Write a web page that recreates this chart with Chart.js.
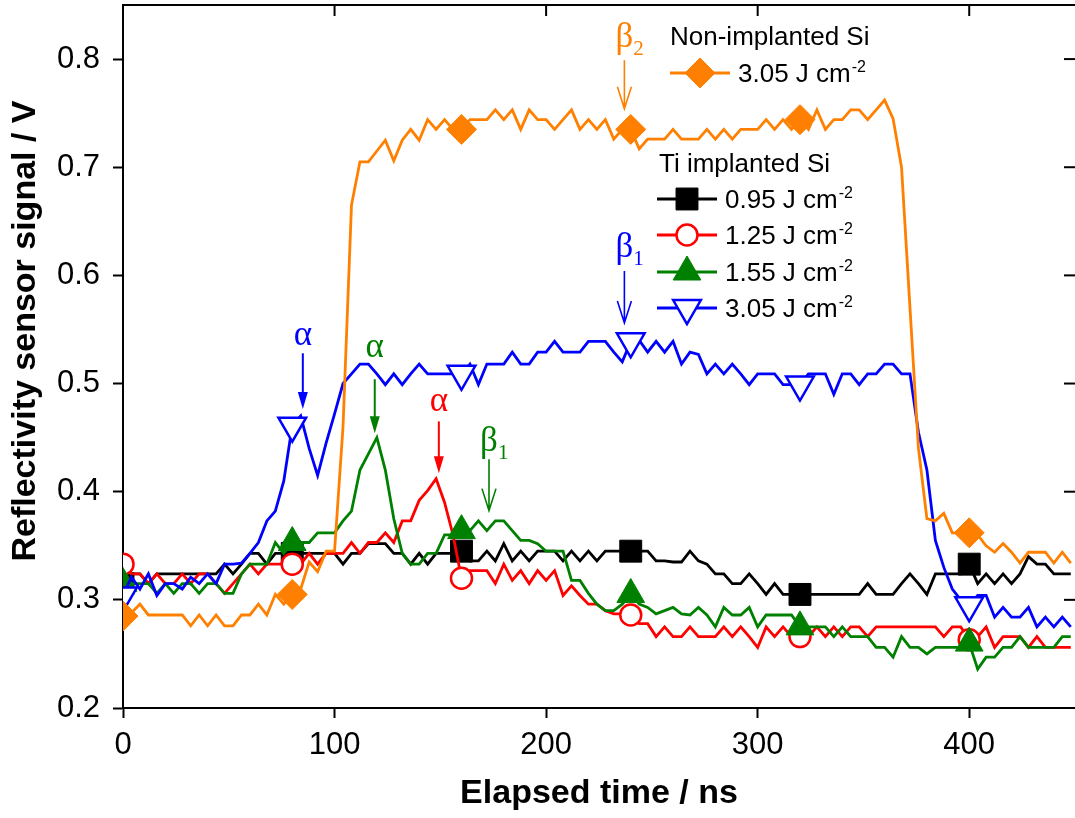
<!DOCTYPE html>
<html>
<head>
<meta charset="utf-8">
<title>Reflectivity sensor signal vs elapsed time</title>
<script src="https://cdn.jsdelivr.net/npm/chart.js@4.4.1/dist/chart.umd.min.js"></script>
<style>
  html, body { margin: 0; padding: 0; background: #fff; }
  #wrap { width: 1075px; height: 818px; position: relative; }
</style>
</head>
<body>
<div id="wrap"><canvas id="chart"></canvas></div>
<script>
// =========================================================
// DATA (4 ns sampling)
// =========================================================
const timesNs = [
  0, 4, 8, 12, 16, 20, 24, 28, 32, 36,
  40, 44, 48, 52, 56, 60, 64, 68, 72, 76,
  80, 84, 88, 92, 96, 100, 104, 108, 112, 116,
  120, 124, 128, 132, 136, 140, 144, 148, 152, 156,
  160, 164, 168, 172, 176, 180, 184, 188, 192, 196,
  200, 204, 208, 212, 216, 220, 224, 228, 232, 236,
  240, 244, 248, 252, 256, 260, 264, 268, 272, 276,
  280, 284, 288, 292, 296, 300, 304, 308, 312, 316,
  320, 324, 328, 332, 336, 340, 344, 348, 352, 356,
  360, 364, 368, 372, 376, 380, 384, 388, 392, 396,
  400, 404, 408, 412, 416, 420, 424, 428, 432, 436,
  440, 444, 448
];

const xTickValues = [0, 100, 200, 300, 400];
const yTickValues = [0.2, 0.3, 0.4, 0.5, 0.6, 0.7, 0.8];

// Non-implanted Si, 3.05 J cm-2
const nonImpl305 = [
  0.285, 0.288, 0.296, 0.286, 0.286, 0.286, 0.286, 0.286, 0.276, 0.286,
  0.276, 0.286, 0.276, 0.276, 0.286, 0.286, 0.296, 0.286, 0.305, 0.296,
  0.305, 0.310, 0.335, 0.326, 0.345, 0.345, 0.460, 0.665, 0.705, 0.705,
  0.715, 0.725, 0.706, 0.725, 0.735, 0.725, 0.744, 0.735, 0.744, 0.735,
  0.735, 0.744, 0.744, 0.744, 0.753, 0.744, 0.753, 0.735, 0.753, 0.744,
  0.744, 0.735, 0.744, 0.753, 0.735, 0.744, 0.735, 0.744, 0.726, 0.735,
  0.735, 0.717, 0.726, 0.726, 0.726, 0.735, 0.726, 0.726, 0.726, 0.735,
  0.726, 0.735, 0.726, 0.735, 0.735, 0.735, 0.744, 0.735, 0.744, 0.735,
  0.744, 0.735, 0.753, 0.735, 0.744, 0.744, 0.753, 0.753, 0.744, 0.753,
  0.762, 0.745, 0.700, 0.570, 0.440, 0.375, 0.373, 0.380, 0.362, 0.362,
  0.362, 0.360, 0.350, 0.344, 0.352, 0.344, 0.334, 0.344, 0.344, 0.344,
  0.334, 0.344, 0.334
];

// Ti implanted Si, 0.95 J cm-2
const ti095 = [
  0.315, 0.324, 0.324, 0.315, 0.324, 0.324, 0.324, 0.324, 0.324, 0.324,
  0.324, 0.324, 0.333, 0.324, 0.333, 0.343, 0.343, 0.333, 0.343, 0.343,
  0.343, 0.343, 0.343, 0.343, 0.343, 0.343, 0.333, 0.343, 0.343, 0.352,
  0.352, 0.352, 0.343, 0.343, 0.333, 0.343, 0.333, 0.343, 0.343, 0.343,
  0.345, 0.336, 0.336, 0.345, 0.336, 0.352, 0.336, 0.345, 0.336, 0.345,
  0.345, 0.345, 0.336, 0.345, 0.336, 0.345, 0.336, 0.345, 0.345, 0.345,
  0.345, 0.345, 0.345, 0.336, 0.336, 0.335, 0.335, 0.345, 0.336, 0.333,
  0.324, 0.324, 0.315, 0.315, 0.324, 0.315, 0.305, 0.315, 0.305, 0.305,
  0.305, 0.305, 0.305, 0.305, 0.305, 0.305, 0.305, 0.305, 0.315, 0.305,
  0.305, 0.305, 0.315, 0.324, 0.315, 0.305, 0.324, 0.324, 0.324, 0.324,
  0.333, 0.315, 0.324, 0.315, 0.324, 0.315, 0.324, 0.340, 0.333, 0.333,
  0.324, 0.324, 0.324
];

// Ti implanted Si, 1.25 J cm-2
const ti125 = [
  0.333, 0.324, 0.324, 0.315, 0.324, 0.315, 0.315, 0.324, 0.315, 0.324,
  0.324, 0.315, 0.306, 0.315, 0.324, 0.333, 0.324, 0.333, 0.333, 0.333,
  0.333, 0.333, 0.343, 0.333, 0.343, 0.343, 0.343, 0.353, 0.343, 0.353,
  0.353, 0.362, 0.353, 0.373, 0.373, 0.392, 0.401, 0.412, 0.390, 0.360,
  0.320, 0.327, 0.327, 0.327, 0.315, 0.333, 0.318, 0.327, 0.315, 0.327,
  0.318, 0.327, 0.304, 0.313, 0.304, 0.296, 0.296, 0.290, 0.287, 0.287,
  0.286, 0.278, 0.278, 0.266, 0.275, 0.266, 0.266, 0.275, 0.266, 0.266,
  0.266, 0.275, 0.266, 0.275, 0.266, 0.256, 0.275, 0.266, 0.275, 0.266,
  0.266, 0.266, 0.275, 0.266, 0.275, 0.266, 0.275, 0.275, 0.266, 0.275,
  0.275, 0.275, 0.275, 0.275, 0.275, 0.275, 0.275, 0.266, 0.275, 0.275,
  0.263, 0.266, 0.275, 0.256, 0.266, 0.266, 0.266, 0.256, 0.266, 0.256,
  0.256, 0.256, 0.256
];

// Ti implanted Si, 1.55 J cm-2
const ti155 = [
  0.315, 0.315, 0.315, 0.315, 0.306, 0.315, 0.306, 0.315, 0.315, 0.306,
  0.315, 0.315, 0.306, 0.306, 0.324, 0.333, 0.333, 0.333, 0.353, 0.343,
  0.353, 0.353, 0.353, 0.362, 0.362, 0.362, 0.373, 0.382, 0.420, 0.435,
  0.450, 0.420, 0.375, 0.343, 0.333, 0.333, 0.343, 0.343, 0.360, 0.360,
  0.364, 0.364, 0.373, 0.364, 0.373, 0.373, 0.364, 0.355, 0.355, 0.352,
  0.345, 0.345, 0.345, 0.318, 0.318, 0.306, 0.296, 0.290, 0.290, 0.296,
  0.305, 0.296, 0.293, 0.287, 0.290, 0.293, 0.287, 0.286, 0.293, 0.286,
  0.275, 0.293, 0.286, 0.286, 0.293, 0.275, 0.286, 0.286, 0.286, 0.286,
  0.275, 0.275, 0.275, 0.275, 0.266, 0.275, 0.266, 0.266, 0.266, 0.256,
  0.256, 0.247, 0.266, 0.256, 0.256, 0.250, 0.256, 0.256, 0.256, 0.256,
  0.260, 0.236, 0.247, 0.247, 0.256, 0.256, 0.266, 0.256, 0.256, 0.256,
  0.256, 0.266, 0.266
];

// Ti implanted Si, 3.05 J cm-2
const ti305 = [
  0.304, 0.321, 0.310, 0.324, 0.304, 0.315, 0.315, 0.310, 0.321, 0.315,
  0.324, 0.315, 0.333, 0.333, 0.334, 0.343, 0.353, 0.373, 0.382, 0.410,
  0.461, 0.470, 0.440, 0.415, 0.445, 0.472, 0.500, 0.509, 0.518, 0.518,
  0.509, 0.499, 0.509, 0.499, 0.509, 0.518, 0.509, 0.509, 0.509, 0.509,
  0.509, 0.518, 0.499, 0.518, 0.518, 0.518, 0.529, 0.518, 0.518, 0.529,
  0.529, 0.539, 0.529, 0.529, 0.529, 0.539, 0.539, 0.539, 0.529, 0.520,
  0.539, 0.540, 0.529, 0.539, 0.529, 0.539, 0.518, 0.529, 0.527, 0.509,
  0.518, 0.509, 0.518, 0.509, 0.499, 0.509, 0.509, 0.509, 0.499, 0.499,
  0.499, 0.509, 0.509, 0.509, 0.490, 0.509, 0.509, 0.499, 0.509, 0.509,
  0.518, 0.518, 0.509, 0.509, 0.455, 0.420, 0.355, 0.330, 0.310, 0.300,
  0.295, 0.304, 0.304, 0.284, 0.293, 0.284, 0.284, 0.293, 0.275, 0.284,
  0.275, 0.284, 0.275
];

const legendLabel = "3.05 J cm";

// =========================================================
// STYLE
// =========================================================
const FONT_SANS = "'Liberation Sans', Arial, sans-serif";
const FONT_SERIF = "'Liberation Serif', 'Times New Roman', serif";
const MARKER_EVERY_NS = 80;
const LINE_W = 2.8;

const ORANGE = "#ff8000";
const BLACK = "#000000";
const RED = "#ff0000";
const GREEN = "#008000";
const BLUE = "#0000ff";

const styles = {
  orange: { color: ORANGE, marker: "rectRot", radius: 15 },
  black: { color: BLACK, marker: "rect", radius: 15.5 },
  red: { color: RED, marker: "circle", radius: 10.5, hollow: true },
  green: { color: GREEN, marker: "triangle", radius: 16 },
  blue: { color: BLUE, marker: "triangle", radius: 16, rotation: 180, hollow: true }
};

// Arrows + greek labels; x in ns, y values in V
const annotations = [
  { sym: "β", sub: "2", color: ORANGE, x: 237, textY: 0.811, from: 0.799, to: 0.754, head: "open" },
  { sym: "β", sub: "1", color: BLUE, x: 237, textY: 0.617, from: 0.604, to: 0.556, head: "open" },
  { sym: "α", sub: "", color: BLUE, x: 85, textY: 0.536, from: 0.528, to: 0.4765, head: "filled" },
  { sym: "α", sub: "", color: GREEN, x: 119, textY: 0.525, from: 0.504, to: 0.454, head: "filled" },
  { sym: "α", sub: "", color: RED, x: 149.3, textY: 0.475, from: 0.465, to: 0.417, head: "filled" },
  { sym: "β", sub: "1", color: GREEN, x: 173, textY: 0.438, from: 0.430, to: 0.3825, head: "open" }
];


// =========================================================
// DATASETS
// =========================================================
function makeDataset(values, style) {
  return {
    data: timesNs.map((t, i) => ({ x: t, y: values[i] })),
    borderColor: style.color,
    borderWidth: LINE_W,
    tension: 0,
    fill: false,
    pointStyle: style.marker,
    pointRotation: style.rotation || 0,
    pointBackgroundColor: style.hollow ? "#ffffff" : style.color,
    pointBorderColor: style.color,
    pointBorderWidth: style.hollow ? 2.5 : 1,
    pointRadius: ctx => (timesNs[ctx.dataIndex] % MARKER_EVERY_NS === 0 ? style.radius : 0),
    pointHoverRadius: 0
  };
}

// index 0 ends up on top
const datasets = [
  makeDataset(nonImpl305, styles.orange),
  makeDataset(ti305, styles.blue),
  makeDataset(ti155, styles.green),
  makeDataset(ti125, styles.red),
  makeDataset(ti095, styles.black)
];


// =========================================================
// EXTRA DRAWING (clip, frame, y title, arrows, legend)
// =========================================================

// markers sitting on x = 0 get cut at the left axis, like the original
const clipPlugin = {
  id: "plotClip",
  beforeDatasetsDraw(chart) {
    const left = chart.scales.x.getPixelForValue(0);
    const right = chart.scales.x.getPixelForValue(450);
    chart.ctx.save();
    chart.ctx.beginPath();
    chart.ctx.rect(left, 0, right - left, chart.height);
    chart.ctx.clip();
  },
  afterDatasetsDraw(chart) {
    chart.ctx.restore();
  }
};

function drawFrame(ctx, area, scales) {
  ctx.save();
  ctx.strokeStyle = "#000";
  ctx.lineWidth = 2;

  ctx.beginPath();
  ctx.moveTo(area.left - 1, area.top);
  ctx.lineTo(area.right, area.top);
  ctx.stroke();

  // inward ticks on top and right
  xTickValues.slice(1).forEach(v => {
    const x = scales.x.getPixelForValue(v);
    ctx.beginPath();
    ctx.moveTo(x, area.top);
    ctx.lineTo(x, area.top + 11);
    ctx.stroke();
  });
  yTickValues.slice(1).forEach(v => {
    const y = scales.y.getPixelForValue(v);
    ctx.beginPath();
    ctx.moveTo(area.right, y);
    ctx.lineTo(area.right - 11, y);
    ctx.stroke();
  });
  ctx.restore();
}

function drawYTitle(ctx, area) {
  ctx.save();
  ctx.translate(26, area.top + 326);
  ctx.rotate(-Math.PI / 2);
  ctx.font = "bold 34px " + FONT_SANS;
  ctx.fillStyle = "#000";
  ctx.textAlign = "center";
  ctx.textBaseline = "middle";
  ctx.fillText("Reflectivity sensor signal / V", 0, 0);
  ctx.restore();
}

function drawArrow(ctx, x, yFrom, yTo, head) {
  ctx.beginPath();
  if (head === "filled") {
    ctx.lineWidth = 2;
    ctx.moveTo(x, yFrom);
    ctx.lineTo(x, yTo - 14);
    ctx.stroke();
    ctx.beginPath();
    ctx.moveTo(x - 5, yTo - 17);
    ctx.lineTo(x + 5, yTo - 17);
    ctx.lineTo(x, yTo);
    ctx.closePath();
    ctx.fill();
  } else {
    ctx.lineWidth = 1.6;
    ctx.moveTo(x, yFrom);
    ctx.lineTo(x, yTo);
    ctx.moveTo(x - 7, yTo - 22);
    ctx.lineTo(x, yTo);
    ctx.lineTo(x + 7, yTo - 22);
    ctx.stroke();
  }
}

function drawAnnotations(ctx, scales) {
  ctx.save();
  annotations.forEach(a => {
    const x = scales.x.getPixelForValue(a.x);
    ctx.fillStyle = a.color;
    ctx.strokeStyle = a.color;

    ctx.font = "35px " + FONT_SERIF;
    ctx.textAlign = "center";
    ctx.textBaseline = "alphabetic";
    const ty = scales.y.getPixelForValue(a.textY);
    ctx.fillText(a.sym, x, ty);
    if (a.sub) {
      const w = ctx.measureText(a.sym).width;
      ctx.font = "21px " + FONT_SERIF;
      ctx.textAlign = "left";
      ctx.fillText(a.sub, x + w / 2, ty + 8);
    }

    drawArrow(ctx, x, scales.y.getPixelForValue(a.from), scales.y.getPixelForValue(a.to), a.head);
  });
  ctx.restore();
}

function drawLegendEntry(ctx, style, x, y, label) {
  ctx.strokeStyle = style.color;
  ctx.lineWidth = LINE_W;
  ctx.beginPath();
  ctx.moveTo(x, y);
  ctx.lineTo(x + 60, y);
  ctx.stroke();

  ctx.fillStyle = style.hollow ? "#ffffff" : style.color;
  ctx.lineWidth = style.hollow ? 2.5 : 1;
  Chart.helpers.drawPoint(ctx, {
    pointStyle: style.marker,
    radius: style.radius,
    rotation: style.rotation || 0,
    borderWidth: style.hollow ? 2.5 : 1
  }, x + 30, y);

  ctx.fillStyle = "#000";
  ctx.font = "26px " + FONT_SANS;
  ctx.textAlign = "left";
  ctx.textBaseline = "alphabetic";
  ctx.fillText(label, x + 68, y + 9);
  const w = ctx.measureText(label).width;
  ctx.font = "16px " + FONT_SANS;
  ctx.fillText("-2", x + 69 + w, y - 1);
}

function drawLegend(ctx) {
  ctx.save();
  ctx.fillStyle = "#000";
  ctx.font = "26px " + FONT_SANS;
  ctx.textAlign = "left";
  ctx.textBaseline = "alphabetic";
  ctx.fillText("Non-implanted Si", 670, 45);
  drawLegendEntry(ctx, styles.orange, 670, 73, legendLabel);

  ctx.fillStyle = "#000";
  ctx.font = "26px " + FONT_SANS;
  ctx.fillText("Ti implanted Si", 659, 172);
  drawLegendEntry(ctx, styles.black, 657, 199, "0.95 J cm");
  drawLegendEntry(ctx, styles.red, 657, 235, "1.25 J cm");
  drawLegendEntry(ctx, styles.green, 657, 272, "1.55 J cm");
  drawLegendEntry(ctx, styles.blue, 657, 308, "3.05 J cm");
  ctx.restore();
}

const figurePlugin = {
  id: "figureExtras",
  afterDraw(chart) {
    const { ctx, chartArea, scales } = chart;
    drawFrame(ctx, chartArea, scales);
    drawYTitle(ctx, chartArea);
    drawAnnotations(ctx, scales);
    drawLegend(ctx);
  }
};


// =========================================================
// CHART
// =========================================================
function init() {
  Chart.defaults.font.family = FONT_SANS;
  Chart.defaults.color = "#000";

  const axisGrid = {
    display: true,
    drawOnChartArea: false,
    drawTicks: true,
    tickLength: 10,
    tickWidth: 2,
    tickColor: "#000"
  };

  new Chart(document.getElementById("chart"), {
    type: "line",
    data: { datasets },
    options: {
      responsive: true,
      maintainAspectRatio: false,
      devicePixelRatio: 1,
      animation: false,
      events: [],
      layout: { padding: { top: 5, right: 0, bottom: 0, left: 0 }, autoPadding: false },
      plugins: {
        legend: { display: false },
        tooltip: { enabled: false }
      },
      scales: {
        x: {
          type: "linear",
          min: 0,
          max: 450,
          border: { display: true, width: 2, color: "#000" },
          grid: axisGrid,
          afterBuildTicks: s => { s.ticks = xTickValues.map(v => ({ value: v })); },
          afterFit: s => { s.height = 110; s.paddingLeft = 0; s.paddingRight = 0; },
          ticks: {
            font: { size: 31 },
            padding: 9,
            maxRotation: 0,
            callback: v => String(v)
          },
          title: {
            display: true,
            text: "Elapsed time / ns",
            font: { size: 34, weight: "bold" },
            padding: { top: 4, bottom: 4 }
          }
        },
        y: {
          type: "linear",
          min: 0.2,
          max: 0.85,
          border: { display: true, width: 2, color: "#000" },
          grid: axisGrid,
          afterBuildTicks: s => { s.ticks = yTickValues.map(v => ({ value: v })); },
          afterFit: s => { s.width = 123; s.paddingTop = 0; s.paddingBottom = 0; },
          ticks: {
            font: { size: 31 },
            padding: 13,
            callback: v => Number(v).toFixed(1)
          },
          title: { display: false }
        }
      }
    },
    plugins: [clipPlugin, figurePlugin]
  });
}

window.addEventListener("load", init);
</script>
</body>
</html>
